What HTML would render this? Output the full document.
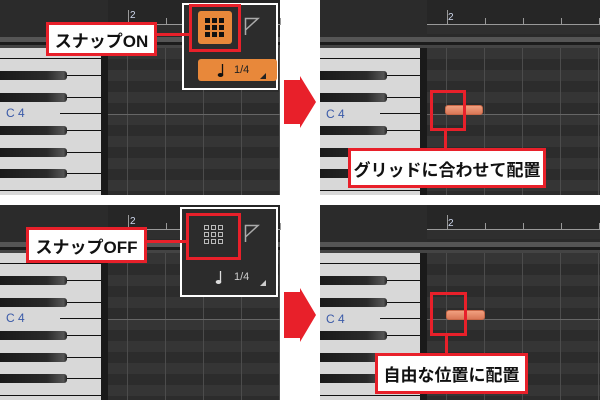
<!DOCTYPE html>
<html><head><meta charset="utf-8">
<style>
*{margin:0;padding:0;box-sizing:border-box}
body{width:600px;height:400px;background:#fff;position:relative;overflow:hidden;font-family:"Liberation Sans","Noto Sans CJK JP",sans-serif}
.a{position:absolute}
.lbl{position:absolute;background:#fff;border:3px solid #e8202a;font-weight:bold;color:#111;display:flex;align-items:center;justify-content:center;white-space:nowrap;font-family:"Liberation Sans","Noto Sans CJK JP",sans-serif}
.c4{position:absolute;color:#3a5aa8;font-size:12px;background:#d8d8d8;padding:0 1px;line-height:12px}
.rul{position:absolute;color:#cfd8ee;font-size:10px}
</style></head><body>
<div id="p"></div>

<!-- overlays top -->
<div class="a" style="left:182px;top:3px;width:96px;height:87px;border:2px solid #fff;background:#2c2c2c"></div>
<div class="a" style="left:198px;top:11px;width:34px;height:33px;background:#e8883a;border-radius:3px"></div>
<svg class="a" style="left:205px;top:18px" width="20" height="20"><g fill="#111">
<rect x="0" y="0" width="5" height="5"/><rect x="7" y="0" width="5" height="5"/><rect x="14" y="0" width="5" height="5"/>
<rect x="0" y="7" width="5" height="5"/><rect x="7" y="7" width="5" height="5"/><rect x="14" y="7" width="5" height="5"/>
<rect x="0" y="14" width="5" height="5"/><rect x="7" y="14" width="5" height="5"/><rect x="14" y="14" width="5" height="5"/></g></svg>
<div class="a" style="left:189px;top:4px;width:52px;height:48px;border:3px solid #e8202a"></div>
<svg class="a" style="left:244px;top:17px" width="16" height="19"><path d="M1.5 18V1.5H14L1.5 13" fill="none" stroke="#aaa" stroke-width="1.5"/></svg>
<div class="a" style="left:198px;top:59px;width:79px;height:22px;background:#e8883a;border-radius:3px;color:#222;font-size:11px;line-height:22px;padding-left:36px">1/4</div>
<svg class="a" style="left:217px;top:63px" width="8" height="15"><path d="M5.5 1V12" stroke="#111" stroke-width="1.3"/><ellipse cx="3.5" cy="12" rx="2.8" ry="2" fill="#111"/></svg>
<svg class="a" style="left:260px;top:73px" width="6" height="6"><path d="M6 0V6H0Z" fill="#222"/></svg>
<div class="a" style="left:156px;top:33px;width:34px;height:3px;background:#e8202a"></div>
<div class="lbl" style="left:46px;top:22px;width:111px;height:34px;font-size:17px">スナップON</div>

<!-- overlays bottom -->
<div class="a" style="left:180px;top:207px;width:98px;height:90px;border:2px solid #fff;background:#2c2c2c"></div>
<svg class="a" style="left:204px;top:225px" width="20" height="20"><g fill="none" stroke="#bbb" stroke-width="1">
<rect x="0.5" y="0.5" width="4" height="4"/><rect x="7.5" y="0.5" width="4" height="4"/><rect x="14.5" y="0.5" width="4" height="4"/>
<rect x="0.5" y="7.5" width="4" height="4"/><rect x="7.5" y="7.5" width="4" height="4"/><rect x="14.5" y="7.5" width="4" height="4"/>
<rect x="0.5" y="14.5" width="4" height="4"/><rect x="7.5" y="14.5" width="4" height="4"/><rect x="14.5" y="14.5" width="4" height="4"/></g></svg>
<div class="a" style="left:186px;top:213px;width:55px;height:47px;border:3px solid #e8202a"></div>
<svg class="a" style="left:244px;top:224px" width="16" height="19"><path d="M1.5 18V1.5H14L1.5 13" fill="none" stroke="#aaa" stroke-width="1.5"/></svg>
<div class="a" style="left:234px;top:267px;color:#ccc;font-size:11px;line-height:20px">1/4</div>
<svg class="a" style="left:215px;top:270px" width="8" height="15"><path d="M5.5 1V12" stroke="#ddd" stroke-width="1.3"/><ellipse cx="3.5" cy="12" rx="2.8" ry="2" fill="#ddd"/></svg>
<svg class="a" style="left:260px;top:280px" width="6" height="6"><path d="M6 0V6H0Z" fill="#ccc"/></svg>
<div class="a" style="left:146px;top:240px;width:42px;height:3px;background:#e8202a"></div>
<div class="lbl" style="left:26px;top:227px;width:121px;height:36px;font-size:17px">スナップOFF</div>

<!-- arrows -->
<svg class="a" style="left:0;top:0" width="600" height="400">
<polygon points="284,80 300,80 300,76 316,102 300,128 300,124 284,124" fill="#e8202a"/>
<polygon points="284,292 300,292 300,288 316,315 300,342 300,338 284,338" fill="#e8202a"/>
</svg>

<!-- right top -->
<div class="a" style="left:445px;top:105px;width:38px;height:10px;background:linear-gradient(#f0a080,#d87858);border-radius:3px;border:1px solid #c86848"></div>
<div class="a" style="left:430px;top:90px;width:36px;height:41px;border:3px solid #e8202a"></div>
<div class="a" style="left:444px;top:130px;width:3px;height:19px;background:#e8202a"></div>
<div class="lbl" style="left:348px;top:148px;width:198px;height:40px;font-size:17px">グリッドに合わせて配置</div>

<!-- right bottom -->
<div class="a" style="left:446px;top:310px;width:39px;height:10px;background:linear-gradient(#f0a080,#d87858);border-radius:3px;border:1px solid #c86848"></div>
<div class="a" style="left:430px;top:292px;width:37px;height:44px;border:3px solid #e8202a"></div>
<div class="a" style="left:445px;top:335px;width:3px;height:19px;background:#e8202a"></div>
<div class="lbl" style="left:375px;top:353px;width:153px;height:41px;font-size:17px">自由な位置に配置</div>

<div class="c4" style="left:5px;top:107px">C 4</div>
<div class="c4" style="left:325px;top:108px">C 4</div>
<div class="c4" style="left:5px;top:312px">C 4</div>
<div class="c4" style="left:325px;top:313px">C 4</div>
<div class="rul" style="left:130px;top:10px">2</div>
<div class="rul" style="left:448px;top:12px">2</div>
<div class="rul" style="left:130px;top:216px">2</div>
<div class="rul" style="left:448px;top:218px">2</div>

<script>
var P=document.getElementById('p');
function r(x,y,w,h,c,ex){var d=document.createElement('div');d.className='a';d.style.cssText='left:'+x+'px;top:'+y+'px;width:'+w+'px;height:'+h+'px;background:'+c+';'+(ex||'');P.appendChild(d);}
function panel(ox,oy,W,H,rx){
 r(ox,oy,W,H,'#2a2a2a');
 r(ox,oy,rx,37,'#2b2b2b');
 r(ox+rx,oy,W-rx,24,'#262626');
 r(ox+rx,oy+24,W-rx,1,'#999');
 r(ox+rx,oy+25,W-rx,9,'#2f2f2f');
 [20,58,96,134,172].forEach(function(t,i){r(ox+rx+t,oy+(i==0?10:18),1,i==0?15:7,'#999');});
 r(ox,oy+37,W,5,'#555');r(ox,oy+42,W,3,'#1c1c1c');r(ox,oy+45,W,3,'#444');
 for(var y=48,i=0;y<H;y+=11,i++){r(ox+rx,oy+y,W-rx,Math.min(11,H-y),i%2?'#2c2c2c':'#353535');}
 [19,57,95,133,171].forEach(function(t){r(ox+rx+t,oy+48,1,H-48,'#4c4c4c');});
 r(ox+rx,oy+114,W-rx,1,'#666');
 r(ox,oy+48,rx-7,H-48,'#d8d8d8');
 r(ox+rx-7,oy+48,7,H-48,'#1a1a1a');
 [58,75,97,113,130,152,173,190].forEach(function(t){if(t<H)r(ox+60,oy+t,rx-67,1,'#111');});
 [58,190].forEach(function(t){if(t<H)r(ox,oy+t,rx-7,1,'#111');});
 [71,93,126,148,169].forEach(function(t){if(t+9<H)r(ox,oy+t,67,9,'linear-gradient(90deg,#1a1a1a 0%,#2a2a2a 70%,#555 95%,#222 100%)','border-radius:0 3px 3px 0');});
}
panel(0,0,280,195,108);
panel(320,0,280,195,107);
panel(0,205,280,195,108);
panel(320,205,280,195,107);
</script>
</body></html>
